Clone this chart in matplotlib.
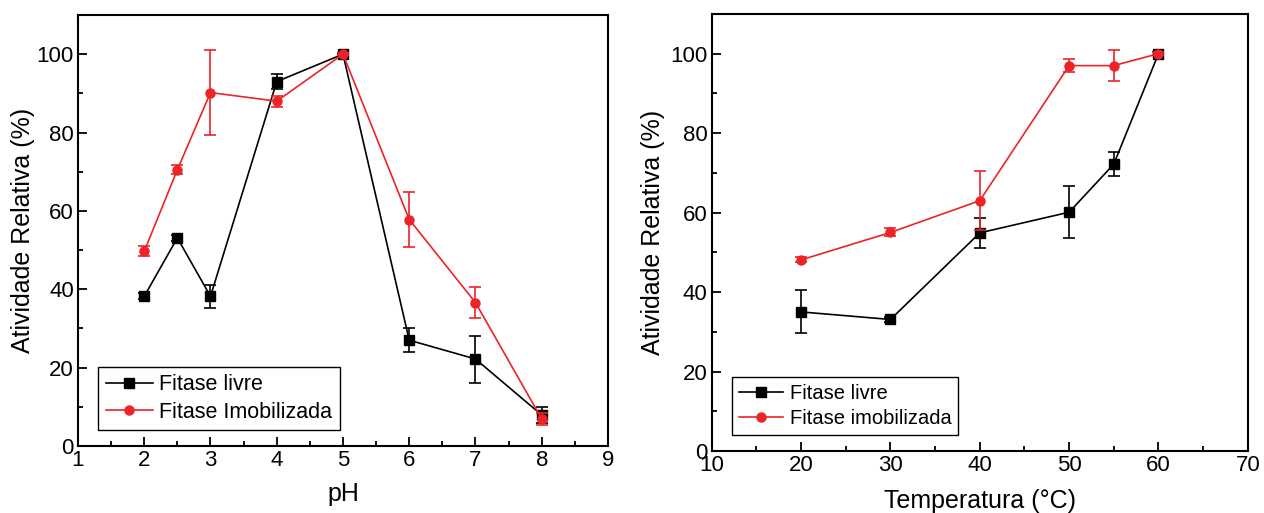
import matplotlib
matplotlib.use("Agg")
import matplotlib.pyplot as plt
from matplotlib.ticker import MultipleLocator

plt.rcParams['font.family'] = ['Liberation Sans', 'DejaVu Sans']

red = '#ec2327'

# pH panel
ph = [2, 2.5, 3, 4, 5, 6, 7, 8]
ph_livre = [38.2, 53.1, 38.2, 93.0, 100.0, 27.0, 22.2, 7.9]
ph_livre_err = [0.8, 0.8, 2.9, 2.0, 0.3, 3.0, 6.0, 2.0]
ph_imob = [49.7, 70.5, 90.2, 88.0, 100.0, 57.8, 36.6, 6.9]
ph_imob_err = [1.3, 1.2, 10.8, 1.4, 0.3, 7.0, 4.0, 1.5]

# temperature panel
temp = [20, 30, 40, 50, 55, 60]
temp_livre = [35.0, 33.1, 54.9, 60.1, 72.2, 100.0]
temp_livre_err = [5.4, 0.6, 3.7, 6.5, 3.0, 0.3]
temp_imob = [48.1, 55.0, 63.0, 97.0, 97.0, 100.0]
temp_imob_err = [0.6, 1.0, 7.5, 1.6, 4.0, 0.3]


def style_axes(ax, xlim, xmajor, xminor, xlabel, xpad, ypad):
    ax.set_xlim(*xlim)
    ax.set_ylim(0, 110)
    ax.xaxis.set_major_locator(MultipleLocator(xmajor))
    ax.xaxis.set_minor_locator(MultipleLocator(xminor))
    ax.yaxis.set_minor_locator(MultipleLocator(10))
    ax.set_yticks([0, 20, 40, 60, 80, 100])
    ax.tick_params(which='both', direction='in', width=1.3, labelsize=16, top=False, right=False)
    ax.tick_params(which='major', length=6.5, pad=3)
    ax.tick_params(which='minor', length=3.5)
    for s in ax.spines.values():
        s.set_linewidth(1.5)
    ax.set_xlabel(xlabel, fontsize=18, labelpad=xpad)
    ax.set_ylabel('Atividade Relativa (%)', fontsize=18, labelpad=ypad)


def plot_series(ax, x, y, err, color, marker, label):
    ax.errorbar(x, y, yerr=err, fmt='none', ecolor=color,
                elinewidth=1.2, capsize=4, capthick=1.2)
    ax.plot(x, y, color=color, marker=marker, markersize=6.5, linewidth=1.2, label=label)


fig = plt.figure(figsize=(12.64, 5.13), dpi=100)
ax1 = fig.add_axes([0.0617, 0.1306, 0.4193, 0.8402])
ax2 = fig.add_axes([0.5631, 0.1209, 0.4241, 0.8519])

plot_series(ax1, ph, ph_livre, ph_livre_err, 'black', 's', 'Fitase livre')
plot_series(ax1, ph, ph_imob, ph_imob_err, red, 'o', 'Fitase Imobilizada')
style_axes(ax1, (1, 9), 1, 0.5, 'pH', 8, 1)

plot_series(ax2, temp, temp_livre, temp_livre_err, 'black', 's', 'Fitase livre')
plot_series(ax2, temp, temp_imob, temp_imob_err, red, 'o', 'Fitase imobilizada')
style_axes(ax2, (10, 70), 10, 5, 'Temperatura (°C)', 9, 4)

for ax, fs in ((ax1, 15.5), (ax2, 14.5)):
    leg = ax.legend(loc='lower left', bbox_to_anchor=(0.038, 0.037), fontsize=fs,
                    frameon=True, fancybox=False, edgecolor='black', framealpha=1,
                    handlelength=2.2, handletextpad=0.3, borderpad=0.35, labelspacing=0.3,
                    borderaxespad=0)
    leg.get_frame().set_linewidth(1.0)

fig.savefig('out.png', dpi=100)
